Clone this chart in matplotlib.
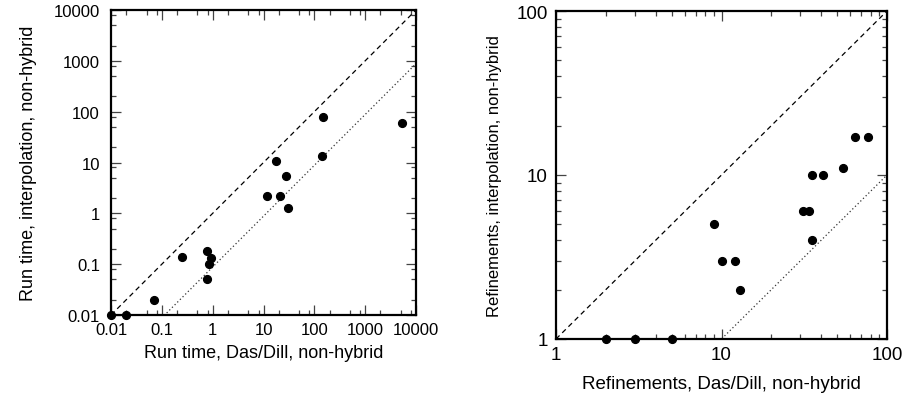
import matplotlib
matplotlib.use("Agg")
import matplotlib.pyplot as plt
import numpy as np
from matplotlib.ticker import FixedLocator, NullFormatter

plt.rcParams['font.family'] = ['Liberation Sans', 'DejaVu Sans']

# left panel: run times (seconds)
dasdill_time = [0.01, 0.02, 0.07, 0.25, 0.76, 0.91, 0.85, 0.79,
                11.9, 17.6, 21, 28, 31, 148, 140, 5200]
interp_time = [0.01, 0.01, 0.02, 0.14, 0.18, 0.13, 0.10, 0.05,
               2.2, 10.6, 2.2, 5.5, 1.26, 78, 13.6, 59]
time_ticks = [0.01, 0.1, 1, 10, 100, 1000, 10000]
time_labels = ['0.01', '0.1', '1', '10', '100', '1000', '10000']
time_ratio = 0.088  # dotted reference line

# right panel: refinements
dasdill_ref = [2, 3, 5, 9, 10, 12, 13, 31, 34, 35, 35, 41, 54, 64, 77]
interp_ref = [1, 1, 1, 5, 3, 3, 2, 6, 6, 10, 4, 10, 11, 17, 17]
ref_ticks = [1, 10, 100]
ref_labels = ['1', '10', '100']
ref_ratio = 0.1

fig = plt.figure(figsize=(9.05, 4.02), dpi=100)
ax1 = fig.add_axes([111 / 905, 86 / 402, 305 / 905, 305 / 402])
ax2 = fig.add_axes([556 / 905, 62 / 402, 331 / 905, 328 / 402])


def style(ax, ticks, labels, minors, fs, pad):
    ax.set_xscale('log')
    ax.set_yscale('log')
    ax.set_xlim(ticks[0], ticks[-1])
    ax.set_ylim(ticks[0], ticks[-1])
    for axis in (ax.xaxis, ax.yaxis):
        axis.set_major_locator(FixedLocator(ticks))
        axis.set_minor_locator(FixedLocator(minors))
        axis.set_minor_formatter(NullFormatter())
    ax.set_xticklabels(labels)
    ax.set_yticklabels(labels)
    ax.tick_params(which='both', direction='in', top=True, right=True,
                   labelsize=fs, color='#444444', width=0.9)
    ax.tick_params(which='major', length=7)
    ax.tick_params(axis='x', which='major', pad=5)
    ax.tick_params(axis='y', which='major', pad=pad)
    ax.tick_params(which='minor', length=3.5)
    for s in ax.spines.values():
        s.set_linewidth(1.6)


dec1 = np.log10(time_ticks)
minors1 = [m * 10 ** d for d in dec1[:-1] for m in (2, 5, 8)]
style(ax1, time_ticks, time_labels, minors1, 12, 8)
lim1 = np.array([time_ticks[0], time_ticks[-1]])
ax1.plot(lim1, lim1, color='black', lw=0.9, ls=(0, (4, 3)))
ax1.plot(lim1, lim1 * time_ratio, color='#333333', lw=0.9, ls=(0, (1, 2)))
ax1.plot(dasdill_time, interp_time, 'o', color='black', ms=5.6, clip_on=False)
ax1.set_xlabel('Run time, Das/Dill, non-hybrid', fontsize=13, labelpad=5)
ax1.set_ylabel('Run time, interpolation, non-hybrid', fontsize=13, labelpad=12)

minors2 = [m * 10 ** d for d in (0, 1) for m in range(2, 10)]
style(ax2, ref_ticks, ref_labels, minors2, 13.5, 6)
lim2 = np.array([ref_ticks[0], ref_ticks[-1]])
ax2.plot(lim2, lim2, color='black', lw=0.9, ls=(0, (4, 3)))
ax2.plot(lim2, lim2 * ref_ratio, color='#333333', lw=0.9, ls=(0, (1, 2)))
ax2.plot(dasdill_ref, interp_ref, 'o', color='black', ms=5.6, clip_on=False)
ax2.set_xlabel('Refinements, Das/Dill, non-hybrid', fontsize=13.5, labelpad=9)
ax2.set_ylabel('Refinements, interpolation, non-hybrid', fontsize=12, labelpad=10)

fig.savefig('out.png', dpi=100)
